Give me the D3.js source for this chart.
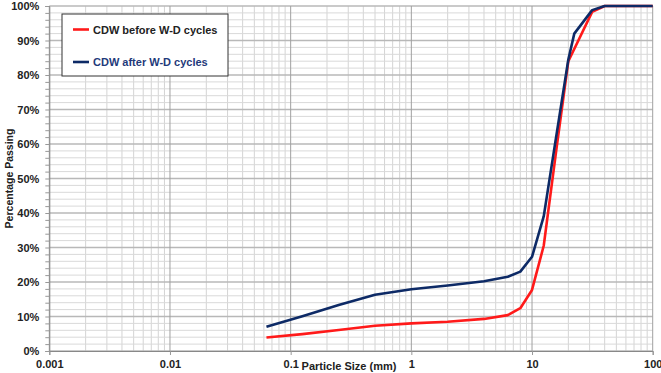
<!DOCTYPE html>
<html><head><meta charset="utf-8">
<script src="https://cdn.jsdelivr.net/npm/d3@7"></script>
<style>body{margin:0;background:#fff}svg{display:block;font-family:"Liberation Sans",Arial,sans-serif}</style>
</head><body><svg id="c" width="661" height="373"></svg>
<script>
const beforeSizes = [0.063,0.125,0.25,0.5,1,2,4,6.3,8,10,12.5,16,20,31.5,40,100];
const beforePass  = [3.9,4.9,6.1,7.3,8.0,8.5,9.3,10.4,12.4,17.7,30.5,59,84,98.3,100,100];
const afterSizes  = [0.063,0.125,0.25,0.5,1,2,4,6.3,8,10,12.5,16,20,22.4,31.5,40,100];
const afterPass   = [7.0,10.1,13.3,16.3,17.9,19.0,20.2,21.5,23.0,27.3,39,63,84.5,92,98.8,100,100];
const xTickLabels = ["0.001","0.01","0.1","1","10","100"];
const yTicks = [0,10,20,30,40,50,60,70,80,90,100];
const seriesNames = ["CDW before W-D cycles","CDW after W-D cycles"];
const colors = ["#ff1a1a","#0d2a66"];

const svg = d3.select("#c");
const L=49.3, R=652.7, T=6, B=351;
const x = d3.scaleLog().domain([0.001,100]).range([L,R]);
const y = d3.scaleLinear().domain([0,100]).range([B,T]);

// gridlines
const g = svg.append("g");
const minorX = [];
for (let e=-3;e<2;e++) for (let m=2;m<=9;m++) minorX.push(m*Math.pow(10,e));
g.selectAll(".vx").data(minorX).enter().append("line")
 .attr("x1",d=>x(d)).attr("x2",d=>x(d)).attr("y1",T).attr("y2",B)
 .attr("stroke","#d4d4d4").attr("stroke-width",1);
const minorY = d3.range(0,101,2).filter(v=>v%10!==0);
g.selectAll(".hy").data(minorY).enter().append("line")
 .attr("x1",L).attr("x2",R).attr("y1",d=>y(d)).attr("y2",d=>y(d))
 .attr("stroke","#d9d9d9").attr("stroke-width",1);
g.selectAll(".hY").data(yTicks).enter().append("line")
 .attr("x1",L).attr("x2",R).attr("y1",d=>y(d)).attr("y2",d=>y(d))
 .attr("stroke","#b8b8b8").attr("stroke-width",1.3);
const majX = xTickLabels.map(Number);
g.selectAll(".vX").data(majX).enter().append("line")
 .attr("x1",d=>x(d)).attr("x2",d=>x(d)).attr("y1",T).attr("y2",B)
 .attr("stroke","#a0a0a0").attr("stroke-width",1);

// axes
const yAxis = d3.axisLeft(y).tickValues(d3.range(0,101,2)).tickSize(4).tickFormat(d=>d%10===0?d+"%":"");
const ya = svg.append("g").attr("transform",`translate(${L},0)`).call(yAxis);
ya.select(".domain").attr("stroke","#888");
ya.selectAll(".tick line").attr("stroke","#999");
ya.selectAll("text").attr("font-size",11).attr("font-weight","bold").attr("fill","#222").attr("dx","-3");
const xAxis = d3.axisBottom(x).tickValues(majX).tickSize(4).tickFormat((d,i)=>xTickLabels[i]);
const xa = svg.append("g").attr("transform",`translate(0,${B})`).call(xAxis);
xa.select(".domain").attr("stroke","#888");
xa.selectAll(".tick line").attr("stroke","#999");
xa.selectAll("text").attr("font-size",11).attr("font-weight","bold").attr("fill","#222").attr("dy","0.9em");

svg.append("text").attr("x",349).attr("y",370).attr("text-anchor","middle")
 .attr("font-size",11).attr("font-weight","bold").attr("fill","#222").text("Particle Size (mm)");
svg.append("text").attr("transform","translate(13,178.5) rotate(-90)").attr("text-anchor","middle")
 .attr("font-size",10.5).attr("font-weight","bold").attr("fill","#222").text("Percentage Passing");

// lines
const line = d3.line().x(d=>x(d[0])).y(d=>y(d[1]));
const data = [d3.zip(beforeSizes,beforePass), d3.zip(afterSizes,afterPass)];
svg.selectAll(".s").data(data).enter().append("path")
 .attr("d",line).attr("fill","none").attr("stroke",(d,i)=>colors[i]).attr("stroke-width",2.6)
 .attr("stroke-linejoin","round");

// legend
const lg = svg.append("g");
lg.append("rect").attr("x",62).attr("y",14).attr("width",166).attr("height",62)
 .attr("fill","#fff").attr("stroke","#333").attr("stroke-width",1);
seriesNames.forEach((n,i)=>{
  const yy = 29.5 + i*32.5;
  lg.append("line").attr("x1",73).attr("x2",89).attr("y1",yy).attr("y2",yy)
    .attr("stroke",colors[i]).attr("stroke-width",2.6);
  lg.append("text").attr("x",93).attr("y",yy+4).attr("font-size",11).attr("font-weight","bold")
    .attr("fill",i===0?"#222":"#1f3a7a").text(n);
});
</script></body></html>
